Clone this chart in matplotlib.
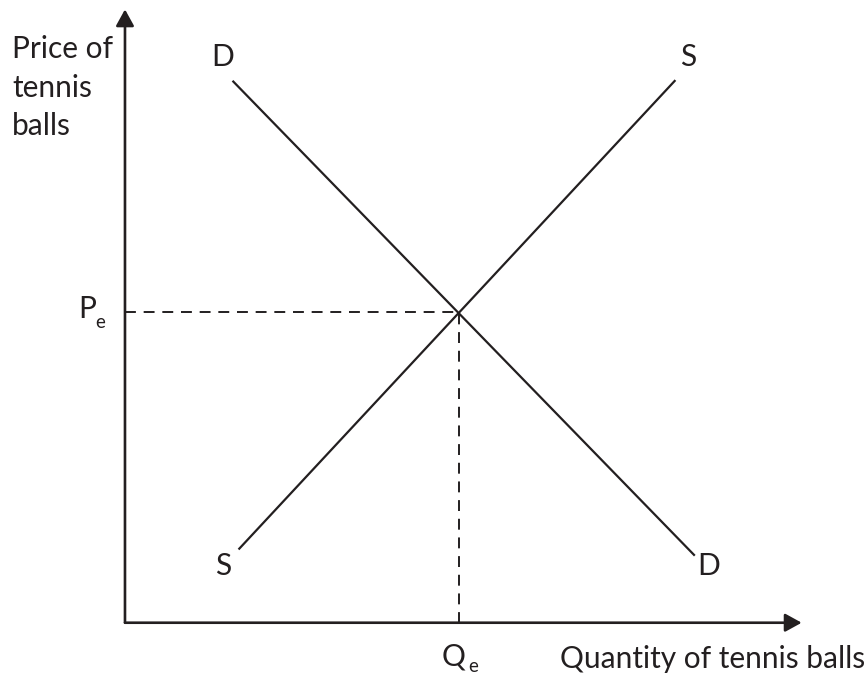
import matplotlib
matplotlib.use("Agg")
import matplotlib.pyplot as plt

# supply / demand diagram for tennis balls (data units, equilibrium at 5,5)
demand_q = [1.61, 8.53]
demand_p = [8.73, 1.08]
supply_q = [1.70, 8.24]
supply_p = [1.18, 8.74]
q_eq = 5.0
p_eq = 5.0
x_axis_end = 10.13
y_axis_end = 9.88
y_title_lines = ['Price of', 'tennis', 'balls']

ink = '#231f20'
plt.rcParams['font.family'] = ['Lato', 'DejaVu Sans']

fig = plt.figure(figsize=(8.68, 6.74), dpi=100)
ax = fig.add_axes([0, 0, 1, 1])
ax.set_xlim(-1.871, 11.123)
ax.set_ylim(-0.826, 10.031)
ax.axis('off')

# axes with arrow heads
arrow = dict(arrowstyle='-|>,head_length=0.4,head_width=0.22', color=ink,
             lw=1.9, mutation_scale=25, shrinkA=0, shrinkB=0)
ax.annotate('', xy=(x_axis_end, 0), xytext=(0, 0), arrowprops=arrow)
ax.annotate('', xy=(0, y_axis_end), xytext=(0, 0), arrowprops=arrow)

# demand and supply
ax.plot(demand_q, demand_p, color=ink, lw=1.6, solid_capstyle='butt')
ax.plot(supply_q, supply_p, color=ink, lw=1.6, solid_capstyle='butt')

# equilibrium guides
ax.plot([0, q_eq], [p_eq, p_eq], color=ink, lw=1.4, dashes=(5.6, 4))
ax.plot([q_eq, q_eq], [0, p_eq], color=ink, lw=1.4, dashes=(5.6, 4))

fs = 21.5
sub = 13.5
ax.text(demand_q[0] - 0.145, demand_p[0] + 0.38, 'D', fontsize=fs, color=ink, ha='center', va='center')
ax.text(demand_q[1] + 0.21, demand_p[1] - 0.17, 'D', fontsize=fs, color=ink, ha='center', va='center')
ax.text(supply_q[0] - 0.23, supply_p[0] - 0.27, 'S', fontsize=fs, color=ink, ha='center', va='center')
ax.text(supply_q[1] + 0.19, supply_p[1] + 0.37, 'S', fontsize=fs, color=ink, ha='center', va='center')

# P_e and Q_e with a dropped subscript
ax.text(-0.70, 4.908, 'P', fontsize=fs, color=ink, ha='left', va='baseline')
ax.text(-0.45, 4.747, 'e', fontsize=sub, color=ink, ha='left', va='baseline')
ax.text(4.74, -0.682, 'Q', fontsize=fs, color=ink, ha='left', va='baseline')
ax.text(5.14, -0.79, 'e', fontsize=sub, color=ink, ha='left', va='baseline')

for i, line in enumerate(y_title_lines):
    ax.text(-1.692, 9.096 - i * 0.62, line, fontsize=fs, color=ink, ha='left', va='baseline')
ax.text(11.08, -0.729, 'Quantity of tennis balls', fontsize=fs, color=ink, ha='right', va='baseline')

fig.savefig('out.png', dpi=100)
